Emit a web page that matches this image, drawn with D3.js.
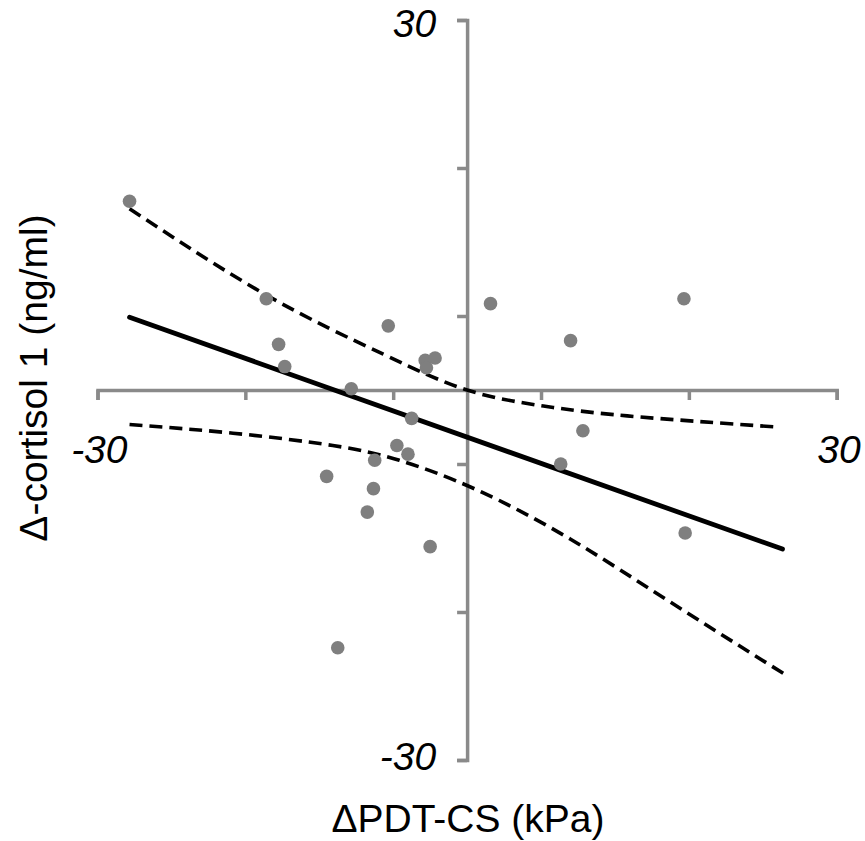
<!doctype html>
<html>
<head>
<meta charset="utf-8">
<title>cortisol vs PDT-CS</title>
<script src="https://cdn.jsdelivr.net/npm/d3@7"></script>
<style>
  body { margin: 0; background: #fff; }
  svg text { font-family: "Liberation Sans", Arial, Helvetica, sans-serif; fill: #000; }
</style>
</head>
<body>
<div id="chart"></div>
<script>
// values
const pdtcs = [-27.4, -16.3, -15.3, -14.8, -6.4, -3.4, -2.6, -3.3, -9.4, -4.5, -5.7, -4.8,
               -7.5, -11.4, -7.6, -8.1, -3.0, -10.5, 1.9, 17.6, 8.4, 9.4, 7.6, 17.7];
const cortisol = [15.3, 7.4, 3.7, 1.9, 5.2, 2.4, 2.6, 1.8, 0.1, -2.3, -4.5, -5.2,
                  -5.7, -7.0, -8.0, -9.9, -12.7, -20.9, 7.0, 7.4, 4.0, -3.3, -6.0, -11.6];

// regression line end points
const fitX = [-27.4, 25.6];
const fitY = [5.9, -12.9];

// confidence band curves
const upperX = [-27.4, -16.3, -6.8, 0, 6.2, 13.0, 25.1];
const upperY = [14.7, 7.7, 2.9, 0, -1.3, -2.1, -3.0];
const lowerX = [-27.4, -19.0, -10.9, -5.5, 0.8, 8.4, 16.5, 25.7];
const lowerY = [-2.8, -3.5, -4.5, -5.7, -8.1, -12.1, -17.2, -23.0];

const ticks = [-30, -18, -6, 6, 18, 30];
const endLabels = [-30, 30];

const W = 865, H = 841;
const axisColor = "#8a8a8a";

const svg = d3.select("#chart").append("svg")
  .attr("width", W)
  .attr("height", H);

const x = d3.scaleLinear().domain([-30, 30]).range([97.5, 836.7]);
const y = d3.scaleLinear().domain([-30, 30]).range([760, 20]);

// axes crossing at zero
const xAxis = svg.append("g")
  .attr("transform", `translate(0,${y(0)})`)
  .call(d3.axisBottom(x).tickValues(ticks).tickSize(10).tickSizeOuter(10).tickFormat(() => ""));
const yAxis = svg.append("g")
  .attr("transform", `translate(${x(0)},0)`)
  .call(d3.axisLeft(y).tickValues(ticks).tickSize(10).tickSizeOuter(10).tickFormat(() => ""));

[xAxis, yAxis].forEach(a => {
  a.selectAll("path, line").attr("stroke", axisColor).attr("stroke-width", 3.5);
  a.select(".domain").attr("fill", "none");
});

// end labels, italic
svg.selectAll(".xend").data(endLabels).enter().append("text")
  .attr("x", d => d < 0 ? x(d) + 30 : x(d) + 24)
  .attr("y", y(0) + 73)
  .attr("text-anchor", "end")
  .style("font-style", "italic")
  .style("font-size", "39px")
  .text(d => d);

svg.selectAll(".yend").data(endLabels).enter().append("text")
  .attr("x", x(0) - 31)
  .attr("y", d => d > 0 ? y(d) + 17 : y(d) + 10)
  .attr("text-anchor", "end")
  .style("font-style", "italic")
  .style("font-size", "39px")
  .text(d => d);

// confidence bands
const band = d3.line().x(d => x(d[0])).y(d => y(d[1])).curve(d3.curveNatural);
[[upperX, upperY], [lowerX, lowerY]].forEach(([xs, ys]) => {
  svg.append("path")
    .datum(xs.map((v, i) => [v, ys[i]]))
    .attr("d", band)
    .attr("fill", "none")
    .attr("stroke", "#000")
    .attr("stroke-width", 3.6)
    .attr("stroke-dasharray", "13,7");
});

// regression line
svg.append("path")
  .datum(fitX.map((v, i) => [v, fitY[i]]))
  .attr("d", d3.line().x(d => x(d[0])).y(d => y(d[1])))
  .attr("stroke", "#000")
  .attr("stroke-width", 4.8)
  .attr("stroke-linecap", "round");

// points
svg.selectAll("circle").data(pdtcs).enter().append("circle")
  .attr("cx", d => x(d))
  .attr("cy", (d, i) => y(cortisol[i]))
  .attr("r", 6.8)
  .attr("fill", "#7f7f7f");

// axis titles
svg.append("text")
  .attr("x", 468)
  .attr("y", 832)
  .attr("text-anchor", "middle")
  .style("font-size", "39px")
  .text("ΔPDT-CS (kPa)");

svg.append("text")
  .attr("transform", "translate(47,378) rotate(-90)")
  .attr("text-anchor", "middle")
  .style("font-size", "39px")
  .text("Δ-cortisol 1 (ng/ml)");
</script>
</body>
</html>
